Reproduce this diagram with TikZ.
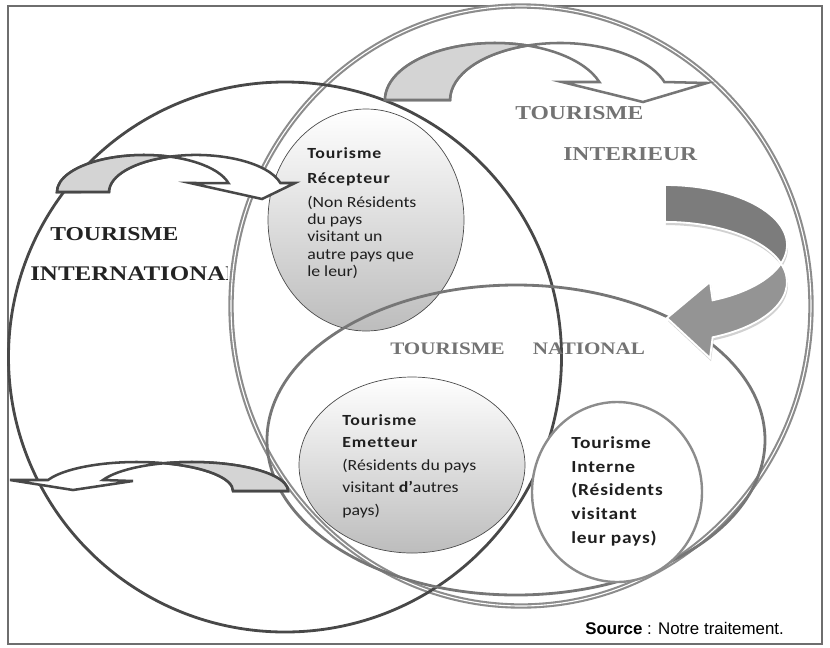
\documentclass[tikz,border=0pt]{standalone}
\usepackage{fontspec}
\setmainfont{Carlito}[FakeStretch=1.15, Ligatures=NoCommon]
\newfontfamily\capsfont[FakeStretch=1.2]{Liberation Serif}
\newfontfamily\srcfont{Liberation Sans}
\usetikzlibrary{shapes.geometric}

\definecolor{framegray}{RGB}{110,110,110}
\definecolor{darkline}{RGB}{72,72,72}
\definecolor{midline}{RGB}{118,118,118}
\definecolor{lightline}{RGB}{140,140,140}
\definecolor{backfill}{RGB}{212,212,212}
\definecolor{darkfill}{RGB}{124,124,124}
\definecolor{midfill}{RGB}{148,148,148}
\definecolor{captxt}{RGB}{35,35,35}
\definecolor{greytxt}{RGB}{115,115,115}

\newcommand{\pxl}{0.025cm}
\newcommand{\titlebf}{\bfseries\addfontfeature{LetterSpace=6}}

\tikzset{
  zone/.style 2 args={ellipse, inner sep=0pt, minimum width=#1*\pxl, minimum height=#2*\pxl},
  bubble/.style={draw=black!70, line width=0.5pt, top color=white, bottom color=black!26},
  bigcaps/.style={font=\capsfont\bfseries\fontsize{14}{16}\selectfont, anchor=base west, inner sep=0pt},
  boxtext/.style={align=left, anchor=north west, inner sep=0pt, text=black!88},
  bentarrow/.style={line width=1.8pt, line join=miter},
}

\begin{document}
\begin{tikzpicture}[x=0.025cm, y=-0.025cm]
  \useasboundingbox (0,0) rectangle (830,647);
  \draw[framegray, line width=2pt] (8,6) rectangle (822,644);

  % filled bubbles
  \node[zone={196}{222}, bubble] (recep) at (366,220) {};
  \node[zone={226}{176}, bubble] (emet) at (412,465) {};

  % big circles
  \node[zone={580}{600}, draw=lightline, line width=1.5pt, double=white, double distance=0.8pt] (inter) at (521,306) {};
  \node[zone={553}{550}, draw=darkline, line width=2pt] (intl) at (285,357) {};
  \node[zone={498}{310}, draw=midline, line width=2pt] (natl) at (516,440) {};
  \node[zone={170}{180}, draw=lightline, line width=1.7pt, fill=white] (interne) at (617,492) {};

  % arrow towards Recepteur
  \filldraw[bentarrow, fill=white, draw=darkline]
    (57,192) arc[start angle=180, end angle=346, x radius=87, y radius=37]
    -- (190,183) -- (262,199) -- (295,183) -- (280.4,183)
    arc[start angle=346, end angle=180, x radius=87, y radius=37] -- cycle;
  \filldraw[bentarrow, fill=backfill, draw=darkline]
    (57,192) arc[start angle=180, end angle=287.4, x radius=87, y radius=37]
    arc[start angle=252.6, end angle=180, x radius=87, y radius=37] -- cycle;

  % arrow at the top
  \filldraw[bentarrow, fill=white, draw=midline]
    (385,100) arc[start angle=180, end angle=341.6, x radius=110, y radius=57]
    -- (562,82) -- (643,102) -- (707,83) -- (664.4,82)
    arc[start angle=341.6, end angle=180, x radius=110, y radius=57] -- cycle;
  \filldraw[bentarrow, fill=backfill, draw=midline]
    (385,100) arc[start angle=180, end angle=287.2, x radius=110, y radius=57]
    arc[start angle=252.8, end angle=180, x radius=110, y radius=57] -- cycle;

  % arrow leaving Emetteur
  \filldraw[bentarrow, fill=white, draw=darkline]
    (288,491) arc[start angle=360, end angle=202.3, x radius=96.1, y radius=29]
    -- (133,481) -- (73,490) -- (10,480) -- (48,480)
    arc[start angle=202.3, end angle=360, x radius=96.1, y radius=29] -- cycle;
  \filldraw[bentarrow, fill=backfill, draw=darkline]
    (288,491) arc[start angle=360, end angle=253.4, x radius=96.1, y radius=29]
    arc[start angle=286.6, end angle=360, x radius=96.1, y radius=29] -- cycle;

  % arrow from Interieur down to National
  \fill[black!18, shift={(1,3)}]
    (665,185) arc[start angle=270, end angle=427, x radius=122, y radius=60]
    -- (710,282) -- (667,318) -- (710,358) -- (712.6,337.3)
    arc[start angle=67, end angle=-90, x radius=122, y radius=60] -- cycle;
  \filldraw[fill=darkfill, draw=white, line width=1.3pt]
    (665,185) arc[start angle=270, end angle=377.9, x radius=122, y radius=60]
    arc[start angle=342.1, end angle=270, x radius=122, y radius=60] -- cycle;
  \filldraw[fill=midfill, draw=white, line width=1.3pt, line join=miter]
    (781,263.5) arc[start angle=17.9, end angle=67, x radius=122, y radius=60]
    -- (710,282) -- (667,318) -- (710,358) -- (712.6,337.3)
    arc[start angle=67, end angle=-17.9, x radius=122, y radius=60] -- cycle;

  % captions
  \node[bigcaps, text=captxt] (intltitle) at (50,240) {TOURISME};
  \begin{scope}
    \clip (0,0) rectangle (227,647);
    \node[bigcaps, text=captxt, font=\capsfont\bfseries\fontsize{14.8}{16}\selectfont] (intlname) at (30,280) {INTERNATIONAL};
  \end{scope}
  \node[bigcaps, text=greytxt] (intertitle) at (515,119) {TOURISME};
  \node[bigcaps, text=greytxt] (intername) at (563,160) {INTERIEUR};
  \node[bigcaps, text=greytxt, font=\capsfont\bfseries\fontsize{12.5}{14}\selectfont] (natltitle) at (390,354) {TOURISME\hspace{20pt}NATIONAL};

  % texts in the bubbles
  \node[boxtext, font=\fontsize{11}{12.4}\selectfont] (receptxt) at (307,147)
    {{\titlebf Tourisme}\\[5.5pt]{\titlebf Récepteur}\\[4.5pt](Non Résidents\\du pays\\visitant un\\autre pays que\\le leur)};
  \node[boxtext, font=\fontsize{11}{16}\selectfont] (emettxt) at (342,414)
    {{\titlebf Tourisme}\\{\titlebf Emetteur}\\(Résidents du pays\\visitant {\bfseries d’}autres\\pays)};
  \node[boxtext, font=\bfseries\addfontfeature{LetterSpace=5}\fontsize{12}{17}\selectfont] (internetxt) at (571,436)
    {Tourisme\\Interne\\(Résidents\\visitant\\leur pays)};

  \node[anchor=base west, inner sep=0pt, font=\srcfont\fontsize{12}{14}\selectfont] (source) at (585,634)
    {\textbf{Source} : Notre traitement.};
\end{tikzpicture}
\end{document}
